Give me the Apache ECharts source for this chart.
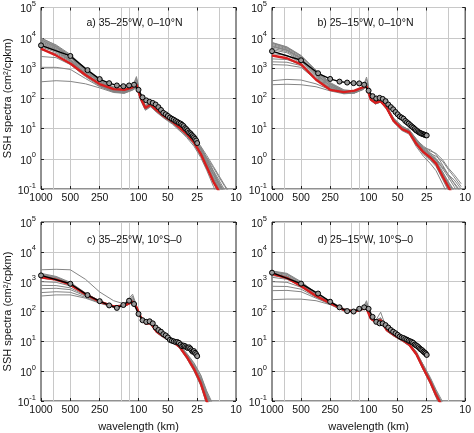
<!DOCTYPE html>
<html><head><meta charset="utf-8">
<script src="https://cdn.jsdelivr.net/npm/echarts@6/dist/echarts.min.js"></script>
<style>html,body{margin:0;padding:0;background:#fff}#c{width:474px;height:433px}</style>
</head><body><div id="c"></div>
<script>
// ---- axis ticks / labels ----
const xTickLabels = [1000, 500, 250, 100, 50, 25, 10];
const xGridLines = [750, 500, 250, 150, 125, 100, 50, 25, 15];
const yTicks = [0.1, 1, 10, 100, 1000, 10000, 100000];
const panelTitles = ['a) 35–25°W, 0–10°N', 'b) 25–15°W, 0–10°N', 'c) 35–25°W, 10°S–0', 'd) 25–15°W, 10°S–0'];

// ---- wavelengths (km) ----
const blackKm = [1000, 500, 333.3, 250, 200, 166.7, 142.9, 125, 111.1, 100, 90.9, 83.3, 76.9, 71.4, 66.7, 62.5, 58.8, 55.6, 52.6, 50, 47.6, 45.5, 43.5, 41.7, 40, 38.5, 37, 35.7, 34.5, 33.3, 32.3, 31.3, 30.3, 29.4, 28.6, 27.8, 27, 26.3, 25.6, 25];
const lineKm = [1000, 700, 500, 350, 250, 180, 140, 115, 105, 95, 85, 75, 65, 55, 45, 38, 32, 27, 23, 20, 17, 15, 13, 11];

// ---- panel a ----
const blackA = [5600, 2500, 850, 430, 315, 265, 250, 265, 280, 190, 107, 85, 76, 70, 62, 51, 41, 33, 29.5, 26, 23, 21, 19.5, 17.8, 16.6, 15.3, 14.5, 13.2, 12, 10.3, 9.5, 8.4, 7.4, 6.9, 6.2, 5.6, 5.1, 4.5, 4.0, 3.3];
const redA = [4400, 2600, 1400, 590, 295, 200, 190, 230, 280, 100, 48, 62, 40, 26, 17, 10.7, 6.6, 3.5, 1.45, 0.54, 0.17, 0.085, 0.04, 0.02];
const grayA = [
  [10000, 5500, 2600, 900, 380, 230, 200, 260, 400, 110, 55, 70, 45, 30, 20, 12, 7.5, 4.2, 2.0, 0.8, 0.3, 0.15, 0.07, 0.03],
  [8500, 5000, 2200, 750, 330, 210, 180, 240, 520, 120, 50, 65, 42, 28, 18, 11, 7, 3.8, 1.7, 0.7, 0.22, 0.11, 0.05, 0.02],
  [7000, 4200, 2000, 700, 300, 190, 170, 210, 300, 95, 45, 60, 38, 25, 16, 10, 6, 3.2, 1.4, 0.5, 0.16, 0.07, 0.03, 0.01],
  [6000, 3800, 1800, 650, 280, 175, 160, 200, 260, 90, 42, 55, 36, 23, 15, 9, 5, 2.6, 1.1, 0.42, 0.12, 0.05, 0.02, 0.01],
  [5000, 3300, 1700, 620, 270, 165, 150, 190, 250, 105, 52, 68, 44, 29, 19, 12.5, 8, 4.8, 2.6, 1.3, 0.55, 0.28, 0.13, 0.06],
  [4000, 3000, 1600, 600, 260, 170, 165, 205, 270, 85, 40, 52, 34, 22, 14, 8.5, 5.5, 3.0, 1.3, 0.6, 0.2, 0.1, 0.045, 0.02],
  [2400, 2200, 1300, 520, 250, 165, 155, 200, 240, 100, 46, 58, 37, 24, 16, 10, 6.3, 3.4, 1.6, 0.75, 0.3, 0.14, 0.06, 0.03],
  [1050, 1050, 900, 450, 240, 160, 150, 195, 230, 95, 44, 56, 38, 25, 15.5, 9.5, 5.8, 3.0, 1.25, 0.5, 0.18, 0.08, 0.035, 0.015],
  [350, 380, 360, 300, 220, 155, 145, 185, 220, 90, 43, 54, 35, 23, 15, 9.8, 6.5, 3.9, 2.1, 1.1, 0.5, 0.25, 0.12, 0.05],
  [7500, 4500, 2300, 800, 350, 220, 190, 250, 330, 115, 56, 72, 48, 32, 21, 13.5, 8.8, 5.0, 2.5, 1.1, 0.4, 0.2, 0.09, 0.04],
  [9000, 5200, 2500, 850, 360, 200, 175, 225, 290, 100, 47, 60, 39, 26, 17, 10.5, 6.5, 3.4, 1.5, 0.65, 0.22, 0.1, 0.045, 0.02],
  [6500, 4000, 1900, 680, 290, 185, 175, 215, 310, 105, 50, 64, 41, 27, 17.5, 11, 7.2, 4.4, 2.3, 1.0, 0.38, 0.17, 0.08, 0.035],
  [9500, 5800, 2800, 950, 400, 240, 205, 270, 450, 125, 58, 74, 47, 31, 21, 13, 8.2, 4.6, 2.2, 0.95, 0.35, 0.16, 0.07, 0.03],
  [8000, 4800, 2400, 820, 340, 205, 185, 235, 350, 108, 51, 66, 43, 28, 18.5, 11.5, 7.4, 4.0, 1.9, 0.85, 0.3, 0.13, 0.06, 0.025],
  [5500, 3600, 1750, 640, 275, 180, 168, 208, 290, 98, 47, 61, 39, 25.5, 16.5, 10.3, 6.6, 3.6, 1.7, 0.7, 0.25, 0.12, 0.05, 0.02]
];

// ---- panel b ----
const blackB = [3600, 1800, 670, 435, 355, 330, 316, 310, 280, 178, 117, 98, 103, 95, 80, 62, 51, 43, 35, 29.5, 25, 23, 21, 17.8, 16, 14.5, 12.9, 11.7, 10.7, 9.7, 8.8, 8.2, 7.6, 7.2, 6.9, 6.6, 6.4, 6.2, 6.0, 5.9];
const redB = [2600, 2100, 1320, 410, 190, 160, 178, 230, 245, 91, 71, 80, 48, 17.8, 9.5, 7.4, 3.1, 1.65, 1.1, 0.69, 0.25, 0.12, 0.05, 0.02];
const grayB = [
  [7000, 5000, 2600, 850, 330, 190, 175, 230, 330, 110, 80, 85, 52, 21, 11, 8.5, 3.8, 2.0, 1.3, 0.8, 0.3, 0.15, 0.07, 0.03],
  [6000, 4300, 2200, 700, 290, 170, 165, 220, 500, 120, 75, 90, 55, 22, 12, 9, 4.5, 2.4, 1.6, 1.0, 0.45, 0.25, 0.12, 0.05],
  [5000, 3800, 2000, 600, 250, 160, 160, 215, 280, 95, 68, 78, 46, 17, 9, 7, 2.8, 1.4, 0.9, 0.55, 0.2, 0.09, 0.04, 0.02],
  [4000, 3200, 1700, 520, 220, 150, 155, 205, 260, 90, 66, 74, 44, 16, 8.5, 6.5, 2.5, 1.2, 0.7, 0.4, 0.14, 0.06, 0.03, 0.01],
  [3000, 2600, 1500, 480, 210, 145, 150, 200, 250, 88, 70, 80, 50, 20, 10.5, 8.2, 4, 2.2, 1.5, 1.2, 0.8, 0.45, 0.25, 0.12],
  [2000, 1900, 1300, 450, 200, 145, 150, 195, 240, 85, 64, 76, 47, 18, 9.5, 7.8, 3.3, 1.7, 1.1, 0.75, 0.28, 0.13, 0.06, 0.025],
  [1600, 1550, 1200, 430, 195, 150, 155, 200, 245, 95, 72, 82, 49, 19, 10, 8, 3.5, 1.9, 1.2, 0.9, 0.5, 0.3, 0.2, 0.1],
  [1300, 1250, 1050, 410, 190, 148, 152, 198, 255, 92, 69, 79, 47, 18.5, 9.8, 7.2, 3.0, 1.5, 1.0, 0.6, 0.22, 0.1, 0.05, 0.02],
  [380, 420, 400, 300, 190, 150, 155, 200, 250, 90, 67, 77, 45, 17.5, 9.2, 7.5, 3.2, 1.6, 1.05, 0.7, 0.35, 0.18, 0.09, 0.04],
  [280, 290, 280, 240, 175, 140, 148, 190, 235, 87, 65, 75, 44, 17, 9, 7.4, 3.6, 2.3, 2.0, 1.4, 0.6, 0.3, 0.15, 0.07],
  [6500, 4600, 2400, 760, 300, 175, 170, 225, 310, 100, 73, 84, 51, 20.5, 10.8, 8.8, 4.2, 2.6, 1.8, 1.5, 0.9, 0.5, 0.3, 0.15],
  [5500, 4000, 2100, 650, 270, 165, 162, 210, 300, 98, 71, 80, 49, 19, 10, 7.8, 3.4, 1.8, 1.2, 0.8, 0.32, 0.15, 0.07, 0.03],
  [6800, 4800, 2500, 800, 310, 180, 170, 228, 420, 112, 76, 86, 53, 21.5, 11.5, 9.2, 4.3, 2.2, 1.4, 0.9, 0.36, 0.17, 0.08, 0.035],
  [4500, 3500, 1850, 560, 235, 155, 158, 210, 270, 93, 69, 79, 48, 18.5, 9.7, 7.6, 3.1, 1.6, 1.05, 0.65, 0.24, 0.11, 0.05, 0.02],
  [5200, 3900, 2050, 630, 260, 162, 160, 212, 290, 97, 70, 81, 50, 19.5, 10.2, 8.0, 3.7, 2.0, 1.35, 1.0, 0.55, 0.3, 0.16, 0.08]
];

// ---- panel c ----
const blackC = [1620, 850, 355, 222, 160, 132, 165, 230, 178, 83, 51, 45, 47, 40, 29, 24, 21, 17.4, 15.8, 13.5, 11.2, 10.5, 10, 9.5, 9.5, 8.9, 7.8, 6.9, 7.2, 6.9, 6.3, 6.0, 6.3, 5.7, 5.0, 4.5, 4.7, 4.1, 3.7, 3.2];
const redC = [1400, 1170, 790, 380, 213, 149, 158, 213, 138, 66, 40, 40, 21, 14.5, 10, 6.5, 3.0, 1.2, 0.4, 0.1, 0.03, 0.012, 0.005, 0.002];
const grayC = [
  [2500, 2600, 2500, 1200, 450, 230, 180, 380, 160, 70, 42, 42, 22, 15, 10.5, 7, 3.4, 1.4, 0.5, 0.14, 0.04, 0.015, 0.006, 0.002],
  [1900, 1500, 950, 420, 225, 155, 165, 330, 145, 68, 41, 43, 22, 15, 10.5, 7.2, 3.6, 1.6, 0.6, 0.18, 0.05, 0.02, 0.008, 0.003],
  [1700, 1350, 880, 400, 220, 150, 160, 240, 140, 65, 40, 41, 21, 14.5, 10, 6.8, 3.2, 1.3, 0.45, 0.12, 0.035, 0.014, 0.005, 0.002],
  [1300, 1150, 800, 390, 215, 148, 158, 220, 135, 63, 39, 39, 20, 14, 9.5, 6.5, 3.1, 1.25, 0.42, 0.11, 0.03, 0.012, 0.005, 0.002],
  [1000, 950, 720, 370, 210, 146, 155, 215, 138, 66, 40, 40, 21, 14.5, 10, 6.6, 3.0, 1.2, 0.4, 0.1, 0.03, 0.01, 0.004, 0.002],
  [750, 740, 620, 350, 205, 145, 152, 210, 136, 64, 39, 40, 21, 14, 9.8, 6.2, 2.8, 1.1, 0.35, 0.08, 0.025, 0.01, 0.004, 0.0015],
  [580, 600, 540, 330, 200, 142, 150, 205, 133, 62, 38, 38, 20, 13.5, 9.5, 6.0, 2.7, 1.0, 0.33, 0.08, 0.025, 0.01, 0.004, 0.0015],
  [430, 460, 440, 300, 195, 140, 150, 200, 130, 62, 38, 38, 20, 13.5, 9.2, 6.3, 3.3, 1.5, 0.55, 0.16, 0.05, 0.02, 0.008, 0.003],
  [330, 360, 360, 280, 190, 138, 148, 195, 128, 60, 37, 37, 19, 13, 9, 6.8, 3.8, 1.8, 0.7, 0.2, 0.06, 0.025, 0.01, 0.004],
  [1500, 1250, 850, 395, 218, 152, 162, 260, 142, 70, 42, 42, 22, 15.5, 11, 7.6, 4.0, 1.9, 0.75, 0.22, 0.07, 0.03, 0.012, 0.005],
  [1600, 1300, 860, 405, 222, 151, 158, 225, 140, 67, 41, 41, 21.5, 14.8, 10.2, 6.9, 3.3, 1.4, 0.5, 0.13, 0.04, 0.015, 0.006, 0.002],
  [1800, 1420, 900, 410, 224, 153, 163, 290, 150, 69, 41, 42, 21.8, 15.2, 10.6, 7.3, 3.5, 1.5, 0.55, 0.15, 0.045, 0.018, 0.007, 0.003],
  [1450, 1220, 830, 392, 216, 147, 156, 230, 141, 65, 40, 40, 20.5, 14.2, 9.8, 6.7, 3.2, 1.3, 0.46, 0.12, 0.035, 0.013, 0.005, 0.002]
];

// ---- panel d ----
const blackD = [2000, 860, 400, 213, 138, 103, 100, 123, 138, 123, 66, 45, 40, 40, 35, 29, 24, 21, 18.7, 16.5, 14.5, 13.5, 12.9, 12, 11.3, 10.5, 10, 9.5, 8.9, 7.8, 7.4, 6.9, 6.3, 5.7, 5.3, 5.0, 4.5, 4.2, 3.9, 3.5];
const redD = [1820, 1320, 710, 330, 190, 112, 100, 123, 129, 58, 45, 51, 24, 16.5, 11.3, 7.8, 3.7, 1.2, 0.44, 0.16, 0.06, 0.025, 0.01, 0.004];
const grayD = [
  [2300, 1900, 1000, 420, 220, 125, 110, 140, 200, 70, 52, 60, 27, 18, 12.5, 8.5, 4.5, 1.5, 0.55, 0.2, 0.07, 0.03, 0.012, 0.005],
  [2000, 1600, 850, 380, 205, 118, 105, 130, 230, 65, 48, 95, 26, 17.5, 12, 8.2, 4.2, 1.4, 0.5, 0.18, 0.065, 0.028, 0.011, 0.004],
  [1800, 1450, 800, 360, 198, 115, 102, 128, 140, 60, 46, 55, 25, 17, 11.5, 8, 3.9, 1.3, 0.47, 0.17, 0.06, 0.025, 0.01, 0.004],
  [1400, 1200, 720, 340, 192, 112, 100, 125, 135, 58, 45, 52, 24, 16.5, 11, 7.6, 3.6, 1.2, 0.43, 0.15, 0.05, 0.02, 0.008, 0.003],
  [1000, 950, 650, 320, 185, 110, 98, 122, 130, 57, 44, 50, 23.5, 16, 11, 7.5, 3.5, 1.1, 0.4, 0.14, 0.045, 0.018, 0.007, 0.003],
  [700, 690, 560, 300, 180, 108, 97, 120, 128, 56, 43, 49, 23, 16, 10.8, 7.3, 3.4, 1.05, 0.38, 0.13, 0.04, 0.016, 0.006, 0.002],
  [500, 510, 460, 280, 175, 106, 96, 118, 126, 55, 43, 48, 22.5, 15.5, 10.5, 7.2, 3.8, 1.35, 0.5, 0.2, 0.075, 0.03, 0.012, 0.005],
  [250, 260, 260, 230, 170, 104, 95, 116, 124, 54, 42, 47, 22, 15, 10.3, 7.0, 4.0, 1.6, 0.62, 0.24, 0.09, 0.035, 0.014, 0.006],
  [2100, 1750, 900, 400, 210, 120, 106, 132, 150, 68, 50, 58, 26, 17.5, 12, 8.3, 4.4, 1.55, 0.58, 0.21, 0.075, 0.03, 0.012, 0.005],
  [1600, 1350, 780, 350, 195, 114, 101, 127, 145, 62, 47, 54, 24.5, 16.8, 11.4, 7.8, 3.7, 1.25, 0.45, 0.16, 0.055, 0.022, 0.009, 0.003],
  [2200, 1800, 950, 410, 215, 122, 108, 135, 175, 66, 49, 62, 26.5, 17.8, 12.2, 8.4, 4.3, 1.45, 0.52, 0.19, 0.068, 0.028, 0.011, 0.004],
  [1900, 1500, 820, 370, 200, 116, 103, 129, 160, 63, 47, 56, 25, 17, 11.6, 7.9, 3.8, 1.3, 0.48, 0.17, 0.06, 0.024, 0.01, 0.004]
];

// ---- build ----
const FONT = '"Liberation Sans", Arial, Helvetica, sans-serif';
const grids = [
  {left: 41, top: 5, width: 195, height: 184},
  {left: 272, top: 5, width: 195, height: 184},
  {left: 41, top: 222, width: 195, height: 184},
  {left: 272, top: 222, width: 195, height: 184}
];
const panels = [
  {black: blackA, red: redA, grays: grayA},
  {black: blackB, red: redB, grays: grayB},
  {black: blackC, red: redC, grays: grayC},
  {black: blackD, red: redD, grays: grayD}
];
const pairs = (xs, ys) => xs.map((x, i) => [x, ys[i]]);

const xAxes = [];
const yAxes = [];
grids.forEach((g, i) => {
  xAxes.push({
    gridIndex: i, type: 'log', logBase: 10, min: 10, max: 1000, inverse: true,
    axisLine: {show: false},
    axisTick: {show: false, customValues: xGridLines},
    splitLine: {show: true, lineStyle: {color: '#c8c8c8', width: 1}},
    axisLabel: {customValues: xTickLabels, fontSize: 10.5, color: '#111', margin: 4, fontFamily: FONT,
      formatter: v => String(Math.round(v))},
    name: i >= 2 ? 'wavelength (km)' : '', nameLocation: 'middle', nameGap: 20,
    nameTextStyle: {fontSize: 11, color: '#111', fontFamily: FONT}
  });
  yAxes.push({
    gridIndex: i, type: 'log', logBase: 10, min: 0.1, max: 100000,
    axisLine: {show: false},
    axisTick: {show: true, inside: true, length: 3, customValues: yTicks, lineStyle: {color: '#222'}},
    splitLine: {show: true, lineStyle: {color: '#c8c8c8', width: 1}},
    axisLabel: {customValues: yTicks, margin: 5, color: '#111',
      formatter: v => '{b|10}{s|' + Math.round(Math.log10(v)) + '}',
      rich: {
        b: {fontSize: 10.5, fontFamily: FONT, color: '#111', lineHeight: 15, verticalAlign: 'bottom'},
        s: {fontSize: 7.5, fontFamily: FONT, color: '#111', lineHeight: 9, verticalAlign: 'top'}
      }},
    name: i % 2 === 0 ? 'SSH spectra (cm²/cpkm)' : '', nameLocation: 'middle', nameGap: 20,
    nameTextStyle: {fontSize: 11, color: '#111', fontFamily: FONT}
  });
});
// tick-mark-only axes on top / right (MATLAB box ticks)
grids.forEach((g, i) => {
  xAxes.push({
    gridIndex: i, type: 'log', logBase: 10, min: 10, max: 1000, inverse: true, position: 'top',
    axisLine: {show: false}, splitLine: {show: false}, axisLabel: {show: false},
    axisTick: {show: true, inside: true, length: 3, customValues: xTickLabels, lineStyle: {color: '#222'}}
  });
  xAxes.push({
    gridIndex: i, type: 'log', logBase: 10, min: 10, max: 1000, inverse: true, position: 'bottom',
    axisLine: {show: false}, splitLine: {show: false}, axisLabel: {show: false},
    axisTick: {show: true, inside: true, length: 3, customValues: xTickLabels, lineStyle: {color: '#222'}}
  });
  yAxes.push({
    gridIndex: i, type: 'log', logBase: 10, min: 0.1, max: 100000, position: 'right',
    axisLine: {show: false}, splitLine: {show: false}, axisLabel: {show: false},
    axisTick: {show: true, inside: true, length: 3, customValues: yTicks, lineStyle: {color: '#222'}}
  });
});

const option = {
  animation: false,
  backgroundColor: '#fff',
  textStyle: {fontFamily: FONT},
  grid: grids.map(g => Object.assign({show: true, borderColor: '#222', borderWidth: 1, backgroundColor: 'transparent', containLabel: false}, g)),
  xAxis: xAxes,
  yAxis: yAxes,
  graphic: grids.map((g, i) => ({
    type: 'text', x: g.left + g.width / 2 - 4, y: g.top + 18, z: 100,
    style: {text: panelTitles[i], font: '10.5px ' + FONT, fill: '#111', textAlign: 'center', textVerticalAlign: 'middle'}
  })),
  series: []
};

panels.forEach((p, i) => {
  p.grays.forEach(arr => option.series.push({
    type: 'line', xAxisIndex: i, yAxisIndex: i, data: pairs(lineKm, arr),
    symbol: 'none', silent: true, z: 2,
    lineStyle: {color: '#858585', width: 1}
  }));
  option.series.push({
    type: 'line', xAxisIndex: i, yAxisIndex: i, data: pairs(lineKm, p.red),
    symbol: 'none', silent: true, z: 3,
    lineStyle: {color: '#d81e1e', width: 2.4}
  });
  option.series.push({
    type: 'line', xAxisIndex: i, yAxisIndex: i, data: pairs(blackKm, p.black),
    symbol: 'circle', symbolSize: 5, silent: true, z: 4,
    lineStyle: {color: '#000', width: 1.4},
    itemStyle: {color: '#9a9a9a', borderColor: '#000', borderWidth: 1}
  });
});

const chart = echarts.init(document.getElementById('c'), null, {renderer: 'canvas'});
chart.setOption(option);
</script>
</body></html>
